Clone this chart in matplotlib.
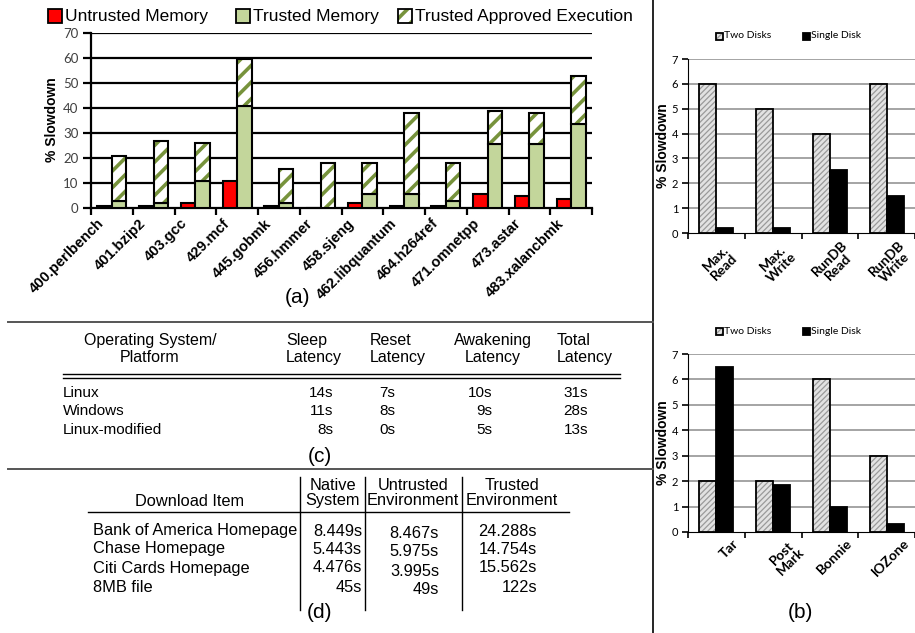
"""
Composite figure: SPEC slowdown bars (a), disk slowdown bars (b),
latency table (c) and download-time table (d).
"""

import numpy as np
import matplotlib
matplotlib.use("Agg")
import matplotlib.pyplot as plt
import matplotlib.patches as mpatches
from matplotlib.lines import Line2D
from matplotlib.transforms import ScaledTranslation

W, H = 915, 633

# ---- panel (a) data ----
spec_names = ["400.perlbench", "401.bzip2", "403.gcc", "429.mcf", "445.gobmk",
              "456.hmmer", "458.sjeng", "462.libquantum", "464.h264ref",
              "471.omnetpp", "473.astar", "483.xalancbmk"]
untrusted_mem = [0.8, 0.8, 2, 10.7, 0.8, 0, 2, 0.8, 0.8, 5.8, 5, 3.8]
trusted_mem = [3, 2.2, 10.8, 41, 2, 0, 5.8, 5.8, 3, 25.8, 25.8, 33.8]
trusted_total = [20.7, 27, 25.9, 59.7, 15.8, 18, 18, 38, 18, 38.8, 38.1, 52.8]

# ---- panel (b) data ----
disk_top_names = ["Max.\nRead", "Max.\nWrite", "RunDB\nRead", "RunDB\nWrite"]
disk_top_two = [6, 5, 4, 6]
disk_top_single = [0.2, 0.2, 2.55, 1.5]
disk_bot_names = ["Tar", "Post\nMark", "Bonnie", "IOZone"]
disk_bot_two = [2, 2, 6, 3]
disk_bot_single = [6.5, 1.85, 1.0, 0.3]

# ---- table (c) ----
c_header = ["Operating System/\nPlatform", "Sleep\nLatency", "Reset\nLatency",
            "Awakening\nLatency", "Total\nLatency"]
c_rows = ["Linux", "Windows", "Linux-modified"]
c_sleep = ["14s", "11s", "8s"]
c_reset = ["7s", "8s", "0s"]
c_awake = ["10s", "9s", "5s"]
c_total = ["31s", "28s", "13s"]

# ---- table (d) ----
d_header = ["Download Item", "Native\nSystem", "Untrusted\nEnvironment",
            "Trusted\nEnvironment"]
d_rows = ["Bank of America Homepage", "Chase Homepage", "Citi Cards Homepage",
          "8MB file"]
d_native = ["8.449s", "5.443s", "4.476s", "45s"]
d_untrusted = ["8.467s", "5.975s", "3.995s", "49s"]
d_trusted = ["24.288s", "14.754s", "15.562s", "122s"]

RED = "#FF0000"
GREEN = "#C3D69B"
GREEN_HATCH = "#77933C"
GRAY_FILL = "#E2E2E2"
GRAY_HATCH = "#9A9A9A"

SANS = ["Liberation Sans", "DejaVu Sans"]
NUM = ["Lato", "DejaVu Sans"]

plt.rcParams["font.family"] = SANS

fig = plt.figure(figsize=(W / 100, H / 100), dpi=100)
fig.patch.set_facecolor("white")


def fx(x):
    return x / W


def fy(y):
    return 1 - y / H


def axes_px(left, top, right, bottom):
    return fig.add_axes([fx(left), fy(bottom), (right - left) / W, (bottom - top) / H])


def ftext(x, y, s, **kw):
    fig.text(fx(x), fy(y), s, **kw)


def hline(x0, x1, y, **kw):
    fig.add_artist(Line2D([fx(x0), fx(x1)], [fy(y), fy(y)], transform=fig.transFigure, **kw))


def vline(x, y0, y1, **kw):
    fig.add_artist(Line2D([fx(x), fx(x)], [fy(y0), fy(y1)], transform=fig.transFigure, **kw))


def shift(dx_px, dy_px):
    return ScaledTranslation(dx_px / 100, dy_px / 100, fig.dpi_scale_trans)


def hatched_bar(ax, x, h, bottom, width, face, hcolor, hatch, edge_lw):
    ax.bar(x, h, width, bottom=bottom, color=face, edgecolor=hcolor, hatch=hatch,
           linewidth=0, zorder=3)
    ax.bar(x, h, width, bottom=bottom, color="none", edgecolor="black",
           linewidth=edge_lw, zorder=4)


def legend_square(x, y, size, face, hatch=None, hcolor=None):
    xy = (fx(x), fy(y + size))
    if hatch:
        fig.add_artist(mpatches.Rectangle(xy, size / W, size / H, transform=fig.transFigure,
                                          facecolor=face, edgecolor=hcolor, hatch=hatch,
                                          linewidth=0))
        face = "none"
    fig.add_artist(mpatches.Rectangle(xy, size / W, size / H, transform=fig.transFigure,
                                      facecolor=face, edgecolor="black", linewidth=1.3))


# ================= panel (a) =================
ax = axes_px(91, 33, 592, 208)
n = len(spec_names)
xc = np.arange(n) + 0.5
bw = 0.35
plt.rcParams["hatch.linewidth"] = 2.6
ax.bar(xc - bw / 2, untrusted_mem, bw, color=RED, edgecolor="black", linewidth=1.5, zorder=3)
ax.bar(xc + bw / 2, trusted_mem, bw, color=GREEN, edgecolor="black", linewidth=1.5, zorder=3)
exec_part = [t - m for t, m in zip(trusted_total, trusted_mem)]
for i in range(n):
    hatched_bar(ax, xc[i] + bw / 2, exec_part[i], trusted_mem[i], bw,
                "white", GREEN_HATCH, "//", 1.5)
ax.set_xlim(0, n)
ax.set_ylim(0, 70)
ax.set_yticks(np.arange(0, 71, 10))
for v in range(10, 71, 10):
    ax.axhline(v, color="black", linewidth=1.6, zorder=1)
for s in ["top", "right"]:
    ax.spines[s].set_visible(False)
ax.spines["left"].set_linewidth(1.6)
ax.spines["bottom"].set_linewidth(1.6)
ax.tick_params(axis="y", length=6, width=1.6, labelsize=9.5, labelcolor="#404040", pad=3)
for lbl in ax.get_yticklabels():
    lbl.set_family(NUM)
ax.set_xticks(np.arange(0, n + 1), minor=True)
ax.set_xticks(xc)
ax.tick_params(axis="x", which="minor", length=5, width=1.6)
ax.tick_params(axis="x", which="major", length=0, pad=6)
ax.set_xticklabels(spec_names, rotation=45, ha="right", va="top",
                   rotation_mode="anchor", fontsize=10.5, fontweight="bold")
for lbl in ax.get_xticklabels():
    lbl.set_transform(lbl.get_transform() + shift(-15, 0))
ftext(52, 120, "% Slowdown", rotation=90, ha="center", va="center",
      fontsize=10, fontweight="bold")
ftext(297, 297, "(a)", ha="center", va="center", fontsize=15)

legend_square(48, 9, 14, RED)
ftext(65, 16, "Untrusted Memory", va="center", fontsize=12.5)
legend_square(236, 9, 14, GREEN)
ftext(253, 16, "Trusted Memory", va="center", fontsize=12.5)
legend_square(398, 9, 14, "white", "//", GREEN_HATCH)
ftext(415, 16, "Trusted Approved Execution", va="center", fontsize=12.5)


# ================= panel (b) =================
def disk_panel(top, bottom, names, two, single, leg_y, centered_labels):
    bx = axes_px(688, top, 915, bottom)
    k = len(names)
    xs = np.arange(k) + 0.5
    w = 0.3
    plt.rcParams["hatch.linewidth"] = 0.9
    for i in range(k):
        hatched_bar(bx, xs[i] - w / 2, two[i], 0, w, GRAY_FILL, GRAY_HATCH, "//////", 1.3)
    bx.bar(xs + w / 2, single, w, color="black", edgecolor="black", linewidth=1.3, zorder=3)
    bx.set_xlim(0, k)
    bx.set_ylim(0, 7)
    bx.set_yticks(range(8))
    for v in range(1, 8):
        bx.axhline(v, color="#8C8C8C", linewidth=1.1, zorder=1)
    for s in ["top", "right"]:
        bx.spines[s].set_visible(False)
    bx.tick_params(axis="y", length=4, width=1.2, labelsize=8, pad=3)
    for lbl in bx.get_yticklabels():
        lbl.set_family(NUM)
    bx.set_xticks(np.arange(0, k + 1), minor=True)
    bx.set_xticks(xs)
    bx.tick_params(axis="x", which="minor", length=4, width=1.2)
    bx.tick_params(axis="x", which="major", length=0, pad=0)
    if centered_labels:
        bx.set_xticklabels(names, rotation=45, ha="center", va="center",
                           rotation_mode="anchor", fontsize=10, fontweight="bold",
                           multialignment="center", linespacing=1.0)
        off = shift(4, -30)
    else:
        bx.set_xticklabels(names, rotation=45, ha="right", va="top",
                           rotation_mode="anchor", fontsize=10, fontweight="bold",
                           multialignment="center", linespacing=1.0)
        off = shift(16, -5)
    for lbl in bx.get_xticklabels():
        lbl.set_family(NUM)
        lbl.set_transform(lbl.get_transform() + off)
    ftext(663, (top + bottom) / 2, "% Slowdown", rotation=90, ha="center", va="center",
          fontsize=10, fontweight="bold")
    legend_square(716, leg_y - 3, 7, GRAY_FILL, "//////", GRAY_HATCH)
    ftext(724, leg_y, "Two Disks", va="center", fontsize=7.5, family=NUM)
    legend_square(803, leg_y - 3, 7, "black")
    ftext(811, leg_y, "Single Disk", va="center", fontsize=7.5, family=NUM)


disk_panel(59, 233, disk_top_names, disk_top_two, disk_top_single, 36, True)
disk_panel(354, 532, disk_bot_names, disk_bot_two, disk_bot_single, 331, False)
ftext(800, 612, "(b)", ha="center", va="center", fontsize=15)

# ================= separators =================
vline(653, 0, H, color="black", linewidth=1.2)
hline(8, 653, 322, color="#555555", linewidth=1.4)
hline(8, 653, 469, color="#555555", linewidth=1.4)

# ================= table (c) =================
TS = 11.5
ftext(150, 349, c_header[0], ha="center", va="center", fontsize=TS, linespacing=1.15)
ftext(286, 349, c_header[1], ha="left", va="center", fontsize=TS, linespacing=1.15)
ftext(370, 349, c_header[2], ha="left", va="center", fontsize=TS, linespacing=1.15)
ftext(493, 349, c_header[3], ha="center", va="center", fontsize=TS, linespacing=1.15,
      multialignment="center")
ftext(557, 349, c_header[4], ha="left", va="center", fontsize=TS, linespacing=1.15)
hline(63, 620, 374, color="black", linewidth=1.0)
hline(63, 620, 377.5, color="black", linewidth=1.0)
row_y = [393, 411, 430]
col_right = [333, 395, 492, 588]
for r, y in enumerate(row_y):
    ftext(63, y, c_rows[r], va="center", fontsize=11)
    for col, vals in zip(col_right, [c_sleep, c_reset, c_awake, c_total]):
        ftext(col, y, vals[r], ha="right", va="center", fontsize=11)
ftext(320, 457, "(c)", ha="center", va="center", fontsize=15)

# ================= table (d) =================
DS = 11.8
for x in [300, 365, 462]:
    vline(x, 477, 610, color="black", linewidth=1.0)
hline(88, 569, 512, color="black", linewidth=1.0)
ftext(190, 502, d_header[0], ha="center", va="center", fontsize=DS)
for x, s in zip([333, 413, 512], d_header[1:]):
    ftext(x, 493, s, ha="center", va="center", fontsize=DS,
          linespacing=1.05, multialignment="center")
drow_y = [531, 549, 568, 587]
for r, y in enumerate(drow_y):
    ftext(93, y, d_rows[r], va="center", fontsize=DS)
    ftext(362, y, d_native[r], ha="right", va="center", fontsize=DS)
    ftext(439, y + 3, d_untrusted[r], ha="right", va="center", fontsize=DS)
    ftext(537, y, d_trusted[r], ha="right", va="center", fontsize=DS)
ftext(320, 613, "(d)", ha="center", va="center", fontsize=15)

fig.savefig("out.png", dpi=100, facecolor="white")
